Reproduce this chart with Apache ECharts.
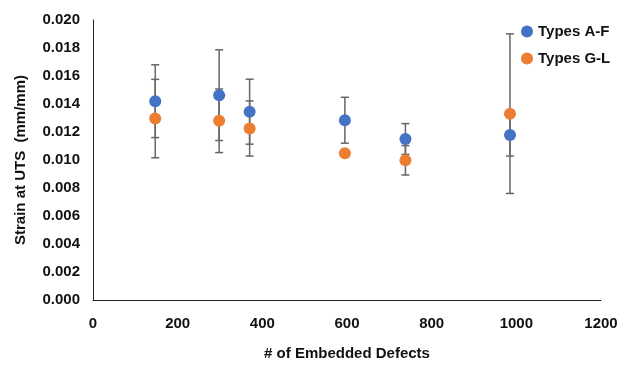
<!DOCTYPE html>
<html>
<head>
<meta charset="utf-8">
<script src="https://cdn.jsdelivr.net/npm/echarts@6/dist/echarts.min.js"></script>
<style>
  html, body { margin: 0; padding: 0; background: #fff; }
  #chart { width: 621px; height: 366px; }
</style>
</head>
<body>
<div id="chart"></div>
<script>
// defects count per specimen group
const defects = [147, 298, 370, 595, 738, 985];
// Types A-F
const strainAF = [0.0142, 0.01463, 0.01345, 0.01284, 0.0115, 0.01178];
const errAF = [0.0026, 0.00324, 0.00232, 0.00164, 0.0011, 0.0015];
// Types G-L
const strainGL = [0.01296, 0.0128, 0.01225, 0.01049, 0.00998, 0.01331];
const errGL = [0.0028, 0.00227, 0.00197, 0.0001, 0.00105, 0.0057];

const font = "'Liberation Sans', Arial, sans-serif";
const blue = "#4472C4";
const orange = "#ED7D31";

function errData(vals, errs) {
  return defects.map((x, i) => [x, vals[i] - errs[i], vals[i] + errs[i]]);
}

function renderErr(params, api) {
  const lo = api.coord([api.value(0), api.value(1)]);
  const hi = api.coord([api.value(0), api.value(2)]);
  const w = 4;
  const style = { stroke: "#666", lineWidth: 1.5 };
  return {
    type: "group",
    children: [
      { type: "line", shape: { x1: lo[0], y1: lo[1], x2: hi[0], y2: hi[1] }, style },
      { type: "line", shape: { x1: lo[0] - w, y1: lo[1], x2: lo[0] + w, y2: lo[1] }, style },
      { type: "line", shape: { x1: hi[0] - w, y1: hi[1], x2: hi[0] + w, y2: hi[1] }, style },
    ],
  };
}

const chart = echarts.init(document.getElementById("chart"));
chart.setOption({
  animation: false,
  grid: { left: 93, right: 20, top: 20, bottom: 60 },
  legend: {
    orient: "vertical",
    left: 516,
    top: 19,
    itemGap: 12,
    itemWidth: 12,
    itemHeight: 12,
    icon: "circle",
    textStyle: { fontFamily: font, fontWeight: "bold", fontSize: 15, color: "#111" },
    data: ["Types A-F", "Types G-L"],
  },
  xAxis: {
    type: "value",
    min: 0,
    max: 1200,
    interval: 200,
    name: "# of Embedded Defects",
    nameLocation: "middle",
    nameGap: 46,
    nameTextStyle: { fontFamily: font, fontWeight: "bold", fontSize: 15, color: "#111" },
    axisLine: { show: true, lineStyle: { color: "#222", width: 1 } },
    axisTick: { show: false },
    splitLine: { show: false },
    axisLabel: {
      fontFamily: font, fontWeight: "bold", fontSize: 15, color: "#111", margin: 16,
      formatter: (v) => String(v),
    },
  },
  yAxis: {
    type: "value",
    min: 0,
    max: 0.02,
    interval: 0.002,
    name: "Strain at UTS  (mm/mm)",
    nameLocation: "middle",
    nameGap: 65,
    nameTextStyle: { fontFamily: font, fontWeight: "bold", fontSize: 15, color: "#111" },
    axisLine: { show: true, lineStyle: { color: "#222", width: 1 } },
    axisTick: { show: false },
    splitLine: { show: false },
    axisLabel: {
      fontFamily: font, fontWeight: "bold", fontSize: 15, color: "#111", margin: 13,
      formatter: (v) => v.toFixed(3),
    },
  },
  series: [
    {
      type: "custom",
      z: 1,
      renderItem: renderErr,
      data: errData(strainAF, errAF),
      encode: { x: 0, y: [1, 2] },
      silent: true,
    },
    {
      type: "custom",
      z: 1,
      renderItem: renderErr,
      data: errData(strainGL, errGL),
      encode: { x: 0, y: [1, 2] },
      silent: true,
    },
    {
      name: "Types A-F",
      type: "scatter",
      z: 3,
      symbolSize: 12,
      itemStyle: { color: blue, opacity: 1 },
      data: defects.map((x, i) => [x, strainAF[i]]),
    },
    {
      name: "Types G-L",
      type: "scatter",
      z: 4,
      symbolSize: 12,
      itemStyle: { color: orange, opacity: 1 },
      data: defects.map((x, i) => [x, strainGL[i]]),
    },
  ],
});
</script>
</body>
</html>
